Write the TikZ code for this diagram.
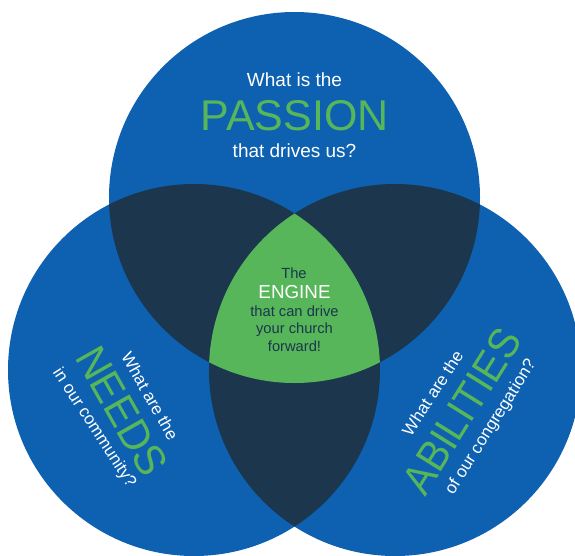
\documentclass[tikz,border=0pt]{standalone}
\usepackage{fontspec}
\setmainfont{Liberation Sans}
\definecolor{vblue}{HTML}{0D61B0}
\definecolor{vdark}{HTML}{1B364D}
\definecolor{vgreen}{HTML}{57B65A}
\tikzset{
  px/.style={x=1pt,y=-1pt},
  white small/.style={text=white,font=\fontsize{17}{20}\selectfont,inner sep=0pt,anchor=center},
  white top/.style={text=white,font=\fontsize{19}{21}\selectfont,inner sep=0pt,anchor=base},
  big word/.style={text=vgreen,inner sep=0pt,anchor=center,font=\fontsize{43}{45}\selectfont},
  dark small/.style={text=vdark,font=\fontsize{14.7}{16}\selectfont,inner sep=0pt,anchor=base}
}
\def\ctop{(294.5,197.5) circle[radius=185.5pt]}
\def\cleft{(194,370) circle[radius=186pt]}
\def\cright{(395,370) circle[radius=186pt]}
\begin{document}
\begin{tikzpicture}[px]
\useasboundingbox (0,0) rectangle (575,555);
\clip (0,0) rectangle (575,555);
\fill[vblue] \ctop;
\fill[vblue] \cleft;
\fill[vblue] \cright;
\begin{scope}\clip \ctop; \fill[vdark] \cleft; \fill[vdark] \cright;\end{scope}
\begin{scope}\clip \cleft; \fill[vdark] \cright;\end{scope}
\begin{scope}\clip \ctop; \clip \cleft; \fill[vgreen] \cright;\end{scope}
% top
\node[white top] (p1) at (294.5,86) {What is the};
\node[big word,anchor=base] (p2) at (294.5,130) {PASSION};
\node[white top] (p3) at (294.5,157) {that drives us?};
% centre
\node[dark small] (e1) at (294,278) {The};
\node[text=white,inner sep=0pt,anchor=base,font=\fontsize{18.8}{20}\selectfont] (e2) at (294.5,298) {ENGINE};
\node[dark small] (e3) at (294.5,316) {that can drive};
\node[dark small] (e4) at (294.5,333) {your church};
\node[dark small] (e5) at (294.5,351) {forward!};
% left
\node[white small,rotate=-60.5] (n1) at (150,396) {What are the};
\node[big word,rotate=-60.5] (n2) at (122,411) {\scalebox{0.95}[1]{NEEDS}};
\node[white small,rotate=-57] (n3) at (94,428) {in our community?};
% right
\node[white small,rotate=57] (a1) at (432.5,393) {What are the};
\node[big word,rotate=58] (a2) at (461.5,411) {\scalebox{0.92}[1]{ABILITIES}};
\node[white small,rotate=58] (a3) at (491,427.5) {of our congregation?};
\end{tikzpicture}
\end{document}
